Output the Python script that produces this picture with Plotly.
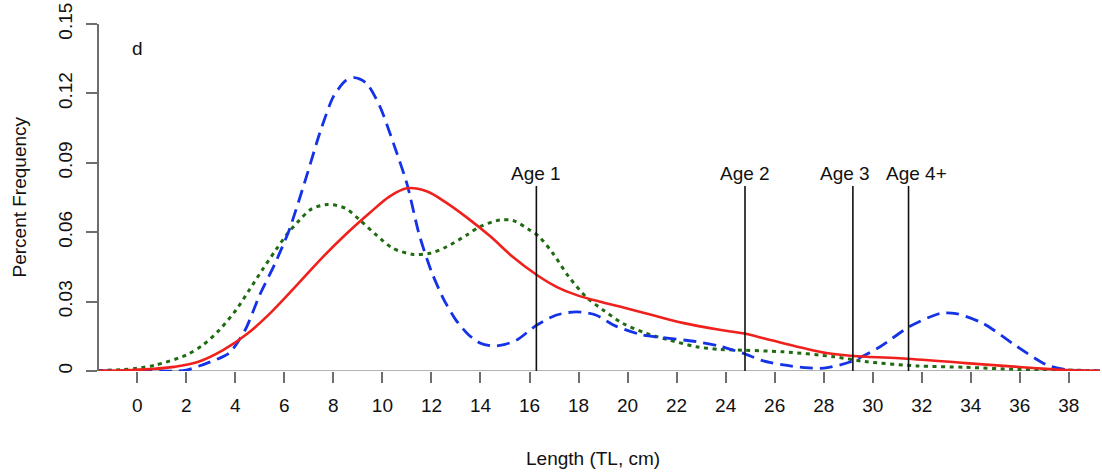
import plotly.graph_objects as go

# ---- data ----
blue_x = [-1.56, 0, 1.0, 1.6, 2.0, 2.9, 3.75, 4.4, 5.0, 5.6, 6.2, 6.9, 7.45, 8.0, 8.5, 8.85, 9.35,
          9.9, 10.45, 11.0, 11.5, 12.0, 12.5, 13.0, 13.5, 14.0, 14.5, 15.0, 15.5, 16.3, 17.1, 17.9,
          18.7, 19.5, 20.6, 21.7, 22.8, 23.75, 24.7, 25.5, 26.35, 27.2, 28.0, 29.1, 30.3, 31.5,
          32.75, 33.4, 34.5, 35.9, 37.1, 37.9, 38.6, 39.27]
blue_y = [0, 0, 0, 0, 0.0004, 0.0036, 0.0078, 0.0177, 0.033, 0.046, 0.061, 0.084, 0.103, 0.1186,
          0.1255, 0.1268, 0.1244, 0.1143, 0.0984, 0.081, 0.059, 0.043, 0.031, 0.022, 0.0158, 0.012,
          0.0108, 0.0115, 0.0135, 0.0199, 0.0242, 0.0256, 0.0242, 0.0195, 0.0156, 0.0141, 0.0127,
          0.0108, 0.0077, 0.0045, 0.0026, 0.0015, 0.0012, 0.004, 0.0105, 0.0192, 0.0249, 0.0248,
          0.0206, 0.0105, 0.0026, 0.0006, 0.0001, 0]

red_x = [-1.56, -0.5, 0.5, 1.5, 2.5, 3.5, 4.5, 5.5, 6.5, 7.5, 8.5, 9.5, 10.3, 11.0, 11.8,
         12.6, 13.45, 14.4, 15.3, 16.3, 17.1, 17.9, 18.85, 19.95, 21.0, 22.25, 23.75, 24.7, 25.5,
         26.35, 27.2, 28.1, 29.2, 31.1, 33.8, 36.55, 37.9, 39.27]
red_y = [0.0001, 0.0003, 0.0008, 0.0018, 0.0040, 0.0090, 0.0162, 0.0258, 0.0370, 0.0485, 0.0590,
         0.0685, 0.0755, 0.0790, 0.0777, 0.0728, 0.0663, 0.0582, 0.0495, 0.0415, 0.0364,
         0.0329, 0.0300, 0.0271, 0.0242, 0.0208, 0.0178, 0.0163, 0.0143, 0.0120, 0.0098, 0.0078,
         0.0065, 0.0055, 0.0034, 0.0013, 0.0004, 0.0001]

green_x = [-1.56, -0.6, 0.0, 0.76, 2.0, 2.67, 3.35, 4.03, 4.57, 5.1, 5.65, 6.1, 6.6, 7.1, 7.78,
           8.5, 9.07, 9.75, 10.43, 11.25, 11.94, 12.62, 13.44, 14.0, 14.8, 15.34, 16.0, 16.4,
           16.95, 17.6, 18.3, 19.0, 19.8, 20.75, 21.7, 22.8, 23.75, 24.3, 26.35, 28.4, 29.75,
           31.8, 33.8, 35.9, 37.9, 39.27]
green_y = [0.0002, 0.0006, 0.0012, 0.0026, 0.0069, 0.0112, 0.0177, 0.0264, 0.035, 0.0437, 0.0523,
           0.059, 0.065, 0.070, 0.072, 0.0703, 0.0653, 0.0588, 0.053, 0.0504, 0.0509, 0.0537,
           0.0588, 0.0625, 0.0653, 0.065, 0.061, 0.058, 0.0509, 0.0408, 0.0321, 0.0264, 0.0206,
           0.0163, 0.0134, 0.0105, 0.0093, 0.0091, 0.0083, 0.0062, 0.004, 0.0022, 0.0016, 0.0007,
           0.0004, 0.0001]

age_x = [16.28, 24.79, 29.19, 31.46]
age_labels = ["Age 1", "Age 2", "Age 3", "Age 4+"]
age_top = 0.080

x_ticks = list(range(0, 39, 2))
y_ticks = [0, 0.03, 0.06, 0.09, 0.12, 0.15]
y_ticklabels = ["0", "0.03", "0.06", "0.09", "0.12", "0.15"]

panel_label = "d"
x_title = "Length (TL, cm)"
y_title = "Percent Frequency"

FONT = "Liberation Sans, Arial, Helvetica, sans-serif"
FS = 19
AX = "#6e6e6e"
TXT = "#111111"
label_shift = [0, 0, -8, 8]  # label nudges (px) so "Age 3" / "Age 4+" don't touch

fig = go.Figure()

fig.add_trace(go.Scatter(x=green_x, y=green_y, mode="lines", line=dict(color="#1f6b12", width=3, dash="4px,4.5px", shape="spline", smoothing=0.8), hoverinfo="skip"))
fig.add_trace(go.Scatter(x=blue_x, y=blue_y, mode="lines", line=dict(color="#1432e6", width=2.8, dash="13px,7px", shape="spline", smoothing=0.7), hoverinfo="skip"))
fig.add_trace(go.Scatter(x=red_x, y=red_y, mode="lines", line=dict(color="#f0201c", width=2.6, shape="spline", smoothing=1.0), hoverinfo="skip"))

for ax_, lab, sh in zip(age_x, age_labels, label_shift):
    fig.add_trace(go.Scatter(x=[ax_, ax_], y=[0, age_top], mode="lines", line=dict(color=TXT, width=1.6), hoverinfo="skip"))
    fig.add_annotation(x=ax_, y=age_top, text=lab, showarrow=False, yanchor="bottom", yshift=0, xshift=sh,
                       font=dict(family=FONT, size=FS, color=TXT))

fig.add_annotation(x=0, y=0.1396, text=panel_label, showarrow=False, font=dict(family=FONT, size=FS, color=TXT))

# x baseline extension to the left of the y axis (as in the reference)
fig.add_shape(type="line", xref="paper", yref="y", x0=-0.012, x1=1.0, y0=0, y1=0, line=dict(color="#9a9a9a", width=1.5), layer="below")

fig.add_annotation(xref="paper", yref="paper", x=0.494, y=0, yshift=-87, text=x_title, showarrow=False,
                   yanchor="middle", font=dict(family=FONT, size=FS, color=TXT))
fig.add_annotation(xref="paper", yref="paper", x=0, xshift=-80, y=0.5, text=y_title, showarrow=False, textangle=-90,
                   xanchor="center", font=dict(family=FONT, size=FS, color=TXT))

fig.update_layout(
    width=1102, height=475,
    margin=dict(l=99, r=2, t=24, b=104),
    paper_bgcolor="white", plot_bgcolor="white",
    showlegend=False,
    font=dict(family=FONT, size=FS, color=TXT),
    xaxis=dict(range=[-1.56, 39.27], tickmode="array", tickvals=x_ticks, ticktext=[str(v) for v in x_ticks],
               ticks="outside", ticklen=11, tickwidth=1.5, tickcolor=AX, showgrid=False, zeroline=False,
               showline=False, tickfont=dict(family=FONT, size=FS, color=TXT), ticklabelstandoff=6),
    yaxis=dict(range=[0, 0.15], tickmode="array", tickvals=y_ticks, ticktext=y_ticklabels,
               ticks="outside", ticklen=11, tickwidth=1.5, tickcolor=AX, showgrid=False, zeroline=False,
               showline=True, linecolor=AX, linewidth=1.5, tickangle=-90,
               tickfont=dict(family=FONT, size=FS, color=TXT), ticklabelstandoff=7),
)

fig.write_html("out.html")
